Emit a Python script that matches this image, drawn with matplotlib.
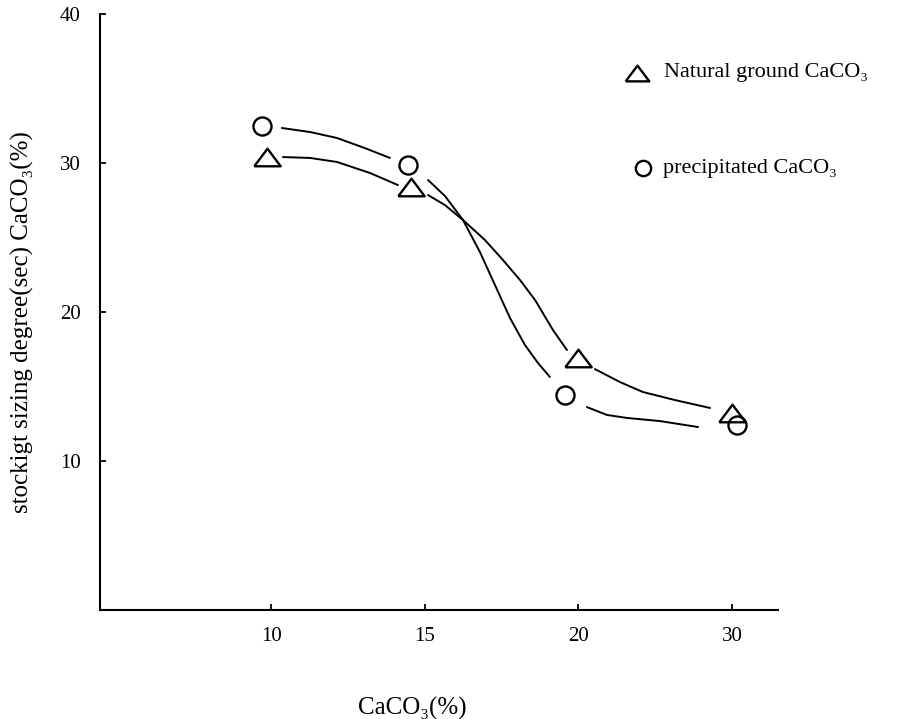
import numpy as np
import matplotlib
matplotlib.use('Agg')
import matplotlib.pyplot as plt

# ---- data ----
x_labels = ['10', '15', '20', '30']
y_ticks = [10, 20, 30, 40]

# marker positions (x in category slots, y in sec)
natural_x = [-0.03, 0.91, 2.00, 3.00]
natural_y = [30.4, 28.4, 16.9, 13.2]
precip_x = [-0.06, 0.89, 1.91, 3.03]
precip_y = [32.5, 29.9, 14.4, 12.4]

# hand drawn connecting curves, one list of points per segment
natural_curve = [
    ([0.075, 0.251, 0.427, 0.642, 0.824],
     [30.40, 30.34, 30.07, 29.33, 28.52]),
    ([1.020, 1.130, 1.248, 1.391, 1.508, 1.619, 1.717, 1.834, 1.925],
     [27.85, 27.18, 26.17, 24.83, 23.49, 22.15, 20.81, 18.79, 17.45]),
    ([2.107, 2.270, 2.420, 2.629, 2.857],
     [16.17, 15.30, 14.63, 14.09, 13.56]),
]
precip_curve = [
    ([0.068, 0.251, 0.427, 0.609, 0.772],
     [32.35, 32.08, 31.68, 31.00, 30.34]),
    ([1.020, 1.130, 1.248, 1.358, 1.456, 1.554, 1.651, 1.736, 1.814],
     [28.86, 27.79, 26.17, 24.03, 21.81, 19.60, 17.79, 16.58, 15.64]),
    ([2.055, 2.186, 2.316, 2.531, 2.779],
     [13.62, 13.09, 12.89, 12.68, 12.28]),
]

natural_label = 'Natural ground CaCO\u2083'
precip_label = 'precipitated CaCO\u2083'
xlabel = 'CaCO\u2083(%)'
ylabel = 'stockigt sizing degree(sec) CaCO\u2083(%)'

plt.rcParams['font.family'] = ['Liberation Serif', 'DejaVu Serif']

# flat triangle like the drawn one
tri = [(-1.5, -1.0), (1.5, -1.0), (0.0, 1.0), (-1.5, -1.0)]

fig = plt.figure(figsize=(9.01, 7.19), dpi=100)
ax = fig.add_axes([0.1110, 0.1516, 0.7525, 0.8289])

for cx, cy in natural_curve:
    ax.plot(cx, cy, color='black', lw=1.4, solid_capstyle='round')
for cx, cy in precip_curve:
    ax.plot(cx, cy, color='black', lw=1.4, solid_capstyle='round')

ax.plot(natural_x, natural_y, linestyle='none', marker=tri, markersize=19,
        markerfacecolor='none', markeredgecolor='black', markeredgewidth=1.7)
ax.plot(precip_x, precip_y, linestyle='none', marker='o', markersize=13,
        markerfacecolor='none', markeredgecolor='black', markeredgewidth=1.7)

ax.set_xlim(-1.117, 3.30)
ax.set_ylim(0, 40)
ax.set_xticks(range(len(x_labels)))
ax.set_xticklabels(x_labels)
ax.set_yticks(y_ticks)
ax.tick_params(direction='in', length=4, width=1.3, labelsize=15, pad=12)
ax.tick_params(axis='y', pad=14)

for s in ['top', 'right']:
    ax.spines[s].set_visible(False)
for s in ['left', 'bottom']:
    ax.spines[s].set_linewidth(1.5)

# legend drawn by hand, as in the original
ax.plot([0.792], [0.901], transform=ax.transAxes, marker=tri, markersize=17,
        markerfacecolor='none', markeredgecolor='black', markeredgewidth=1.7,
        clip_on=False)
fig.text(664 / 901, 1 - 72 / 719, natural_label, fontsize=16, va='center')
ax.plot([0.801], [0.742], transform=ax.transAxes, marker='o', markersize=11,
        markerfacecolor='none', markeredgecolor='black', markeredgewidth=1.7,
        clip_on=False)
fig.text(663 / 901, 1 - 168 / 719, precip_label, fontsize=16, va='center')

fig.text(412 / 901, 1 - 708 / 719, xlabel, fontsize=18, ha='center', va='center')
fig.text(22 / 901, 1 - 322 / 719, ylabel, fontsize=18, ha='center', va='center',
         rotation=90)

fig.savefig('out.png', dpi=100)
